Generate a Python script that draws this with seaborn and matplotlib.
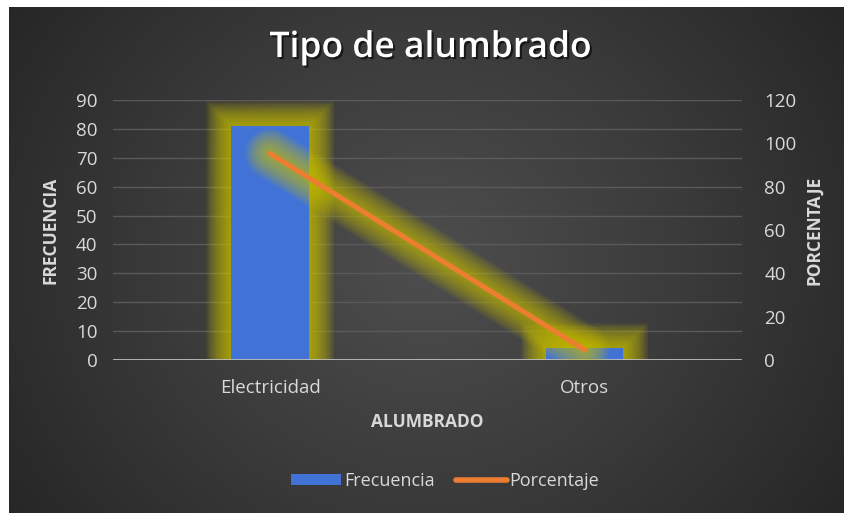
import numpy as np
import pandas as pd
import seaborn as sns
import matplotlib.pyplot as plt
import matplotlib.patheffects as pe
from matplotlib.patches import Patch
from matplotlib.lines import Line2D

# data
categorias = ["Electricidad", "Otros"]
frecuencia = [81, 4]
porcentaje = [95.3, 4.7]

sns.set_style("dark")
plt.rcParams["font.family"] = ["Open Sans", "DejaVu Sans"]

txt = "#d9d9d9"
azul = "#4173d6"
naranja = "#ed7d31"
amarillo = "#cfc600"

fig = plt.figure(figsize=(8.44, 5.13), dpi=100)
fig.patch.set_facecolor("white")

# radial gradient background panel
bg = fig.add_axes([9 / 844, 0, 835 / 844, 506 / 513], zorder=-5)
yy, xx = np.mgrid[-1:1:300j, -1:1:500j]
r = np.sqrt((xx * 0.9) ** 2 + (yy * 0.6) ** 2)
bg.imshow(r, cmap=sns.blend_palette(["#4e4e4e", "#3b3b3b", "#262626"], as_cmap=True),
          aspect="auto", extent=[0, 1, 0, 1], vmin=0, vmax=1.1)
bg.set_axis_off()

ax = fig.add_axes([112.7 / 844, 1 - 360 / 513, 629.3 / 844, 260 / 513])
ax.patch.set_alpha(0)

df = pd.DataFrame({"Alumbrado": categorias, "Frecuencia": frecuencia, "Porcentaje": porcentaje})

sns.barplot(data=df, x="Alumbrado", y="Frecuencia", color=azul, saturation=1,
            width=0.245, ax=ax, zorder=3)


def glow(max_w, step, alpha):
    layers = [pe.Stroke(linewidth=w, foreground=amarillo, alpha=alpha)
              for w in np.arange(max_w, 0, -step)]
    return layers + [pe.Normal()]


for p in ax.patches:
    p.set_path_effects(glow(36, 2, 0.07))
    p.set_linewidth(0)

ax.set_ylim(0, 90)
ax.set_yticks(range(0, 91, 10))
ax.set_xlim(-0.5, 1.5)
ax.grid(axis="y", color="#5a5a5a", linewidth=1)
ax.grid(axis="x", visible=False)
for s in ax.spines.values():
    s.set_visible(False)
ax.axhline(0, color="#bfbfbf", linewidth=2, zorder=4)
ax.tick_params(axis="y", length=0, pad=11, labelsize=13.5, labelcolor=txt)
ax.tick_params(axis="x", length=0, pad=14, labelsize=13.5, labelcolor=txt)
ax.set_ylabel("FRECUENCIA", color=txt, fontsize=12.5, fontweight="bold", labelpad=12)
ax.set_xlabel("ALUMBRADO", color=txt, fontsize=12.5, fontweight="bold", labelpad=11)

ax2 = ax.twinx()
sns.lineplot(x=np.arange(len(categorias)), y=porcentaje, ax=ax2, color=naranja,
             linewidth=3.6, solid_capstyle="round", path_effects=glow(36, 2, 0.06))
ax2.set_ylim(0, 120)
ax2.set_yticks(range(0, 121, 20))
for s in ax2.spines.values():
    s.set_visible(False)
ax2.grid(False)
ax2.tick_params(axis="y", length=0, pad=16, labelsize=13.5, labelcolor=txt)
ax2.set_ylabel("PORCENTAJE", color=txt, fontsize=12.5, fontweight="bold", labelpad=6)
ax2.set_xlim(-0.5, 1.5)

fig.text(430 / 844, 1 - 48 / 513, "Tipo de alumbrado", ha="center", va="center",
         color="white", fontsize=25.5, fontweight="semibold",
         path_effects=[pe.withSimplePatchShadow(offset=(1.5, -1.5), shadow_rgbFace="black", alpha=0.6)])

handles = [Patch(facecolor=azul, edgecolor="none"),
           Line2D([], [], color=naranja, linewidth=4, solid_capstyle="round")]
fig.legend(handles, ["Frecuencia", "Porcentaje"], loc="center", ncol=2,
           bbox_to_anchor=(445 / 844, 1 - 481 / 513), frameon=False,
           labelcolor=txt, fontsize=13, handlelength=2.8, handleheight=0.5,
           handletextpad=0.15, columnspacing=1.2)

fig.savefig("out.png", dpi=100)
